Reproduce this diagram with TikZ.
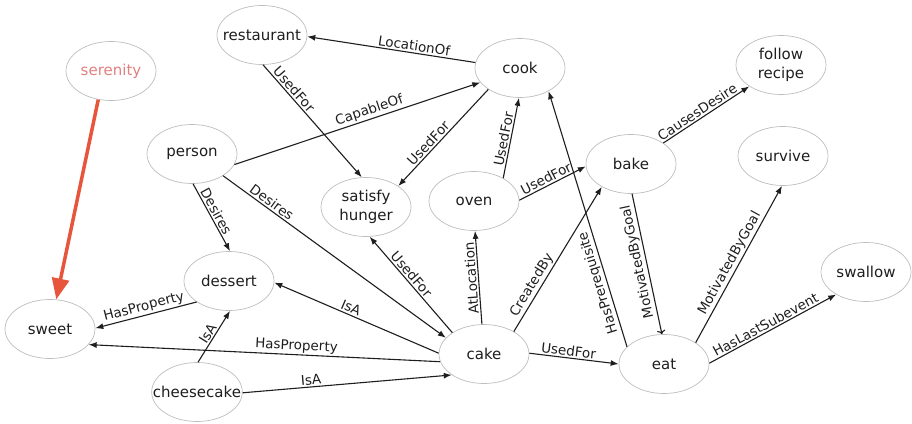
\documentclass[tikz,border=0pt]{standalone}
\usepackage{fontspec}
\setmainfont{DejaVu Sans}
\usetikzlibrary{arrows.meta,shapes.geometric}
\definecolor{Rim}{HTML}{BDBDBD}
\definecolor{Ink}{HTML}{1E1E1E}
\definecolor{Blush}{HTML}{E27F7F}
\definecolor{Alert}{HTML}{E8553D}

\begin{document}
\begin{tikzpicture}[x=1pt,y=-1pt,
    concept/.style={ellipse,draw=Rim,line width=.7pt,minimum width=90pt,minimum height=59pt,
      inner xsep=-12pt,inner ysep=0pt,align=center,text=Ink,font=\fontsize{15}{19}\selectfont},
    link/.style={draw=Ink,line width=1.1pt,-{Latex[length=8pt,width=6pt]}},
    rel/.style={sloped,above,inner sep=1.5pt,text=Ink,font=\fontsize{13.5}{16}\selectfont}]
    \useasboundingbox (0,0) rectangle (912,423);
    \foreach \name/\xx/\yy/\txt in {restaurant/262/35/restaurant,cook/520/68/cook,
      recipe/781/65/{follow\\recipe},person/192/154/person,hunger/366/207/{satisfy\\hunger},
      oven/474/201/oven,bake/631/164/bake,survive/783/156/survive,dessert/229/281/dessert,
      swallow/866/272/swallow,sweet/50/329/sweet,cake/484/354/cake,eat/664/364/eat,
      cheesecake/197/392/cheesecake}
      \node[concept] (\name) at (\xx,\yy) {\txt};
    \node[concept,text=Blush] (serenity) at (111,71) {serenity};
    \foreach \from/\to/\rela/\where in {cook.173/restaurant.-2/LocationOf/.37,
      restaurant.-88/hunger.98/UsedFor/.26,person.-14/cook.-160/CapableOf/.56,
      cook.-146/hunger.33/UsedFor/.61,oven.38/cook.-92/UsedFor/.47,
      oven.1/bake.183/UsedFor/.45,bake.33/recipe.214/CausesDesire/.44,
      person.-88/dessert.88/Desires/.46,person.-35/cake.157/Desires/.2,
      cake.146/hunger.-83/UsedFor/.56,cake.37/bake.218/CreatedBy/.29,
      eat.34/survive.268/MotivatedByGoal/.48,eat.1/swallow.217/HasLastSubevent/.47,
      cake.1/eat.180/UsedFor/.43,cake.179/dessert.-2/IsA/.55,
      dessert.213/sweet.1/HasProperty/.5,cheesecake.88/dessert.-88/IsA/.49,
      cake.190/sweet.-22/HasProperty/.41,cheesecake.-1/cake.213/IsA/.33}
      \draw[link] (\from) -- node[rel,pos=\where] {\rela} (\to);
    \draw[link] (cake.94) -- node[rel,allow upside down,pos=.5] {AtLocation} (oven.-88);
    \draw[link] (eat.155) -- node[rel,allow upside down,pos=.26] {HasPrerequisite} (cook.-39);
    \draw[link,<-] (eat.94) -- node[rel,allow upside down,pos=.53] {MotivatedByGoal} (bake.-88);
    \draw[draw=Alert,line width=3.5pt,-{Triangle[length=21pt,width=17pt]}] (serenity.246) -- (sweet.78);
  \end{tikzpicture}
\end{document}
